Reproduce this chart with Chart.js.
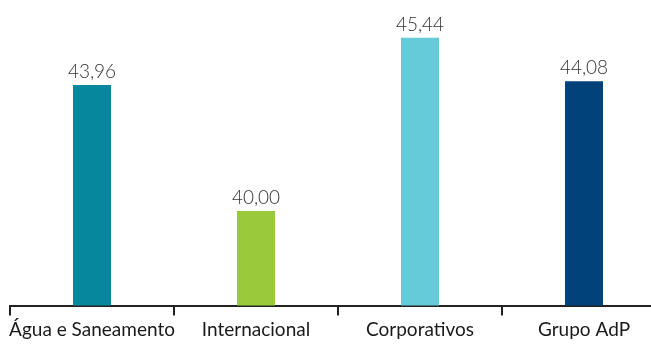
<!DOCTYPE html>
<html>
<head>
<meta charset="utf-8">
<script src="https://cdn.jsdelivr.net/npm/chart.js@4"></script>
<style>
  html, body { margin: 0; padding: 0; background: #fff; overflow: hidden; }
  canvas { display: block; }
</style>
</head>
<body>
<canvas id="adpChart" width="680" height="347"></canvas>
<script>
var segmentos = ['Água e Saneamento', 'Internacional', 'Corporativos', 'Grupo AdP'];
var valores = [43.96, 40.00, 45.44, 44.08];
var cores = ['#07879e', '#9bc93c', '#66cbd9', '#02427a'];

// numbers above each bar, with a decimal comma
var valueLabels = {
    id: 'valueLabels',
    afterDatasetsDraw: function (chart) {
        var ctx = chart.ctx;
        var meta = chart.getDatasetMeta(0);
        ctx.save();
        ctx.font = '300 19px Lato';
        ctx.fillStyle = '#333333';
        ctx.textAlign = 'center';
        ctx.textBaseline = 'alphabetic';
        meta.data.forEach(function (bar, i) {
            var txt = valores[i].toFixed(2).replace('.', ',');
            ctx.fillText(txt, bar.x, bar.y - 7);
        });
        ctx.restore();
    }
};

var ctx = document.getElementById('adpChart');

var adpChart = new Chart(ctx, {
    type: 'bar',
    data: {
        labels: segmentos,
        datasets: [{
            data: valores,
            backgroundColor: cores,
            borderWidth: 0,
            barPercentage: 0.232,
            categoryPercentage: 1
        }]
    },
    options: {
        responsive: false,
        animation: false,
        layout: {
            padding: { left: 10, right: 14, top: 0, bottom: 0 }
        },
        plugins: {
            legend: { display: false },
            tooltip: { enabled: false }
        },
        scales: {
            y: {
                display: false,
                min: 37.03,
                max: 46.63
            },
            x: {
                offset: true,
                border: { display: true, color: '#222222', width: 2 },
                grid: {
                    offset: true,
                    drawOnChartArea: false,
                    drawTicks: true,
                    tickLength: 10,
                    lineWidth: 2,
                    color: '#222222'
                },
                ticks: {
                    color: '#1a1a1a',
                    font: { family: 'Lato', size: 19 },
                    padding: 3,
                    maxRotation: 0,
                    autoSkip: false
                },
                afterFit: function (scale) {
                    scale.height = 41.5;
                }
            }
        }
    },
    plugins: [valueLabels]
});
</script>
</body>
</html>
